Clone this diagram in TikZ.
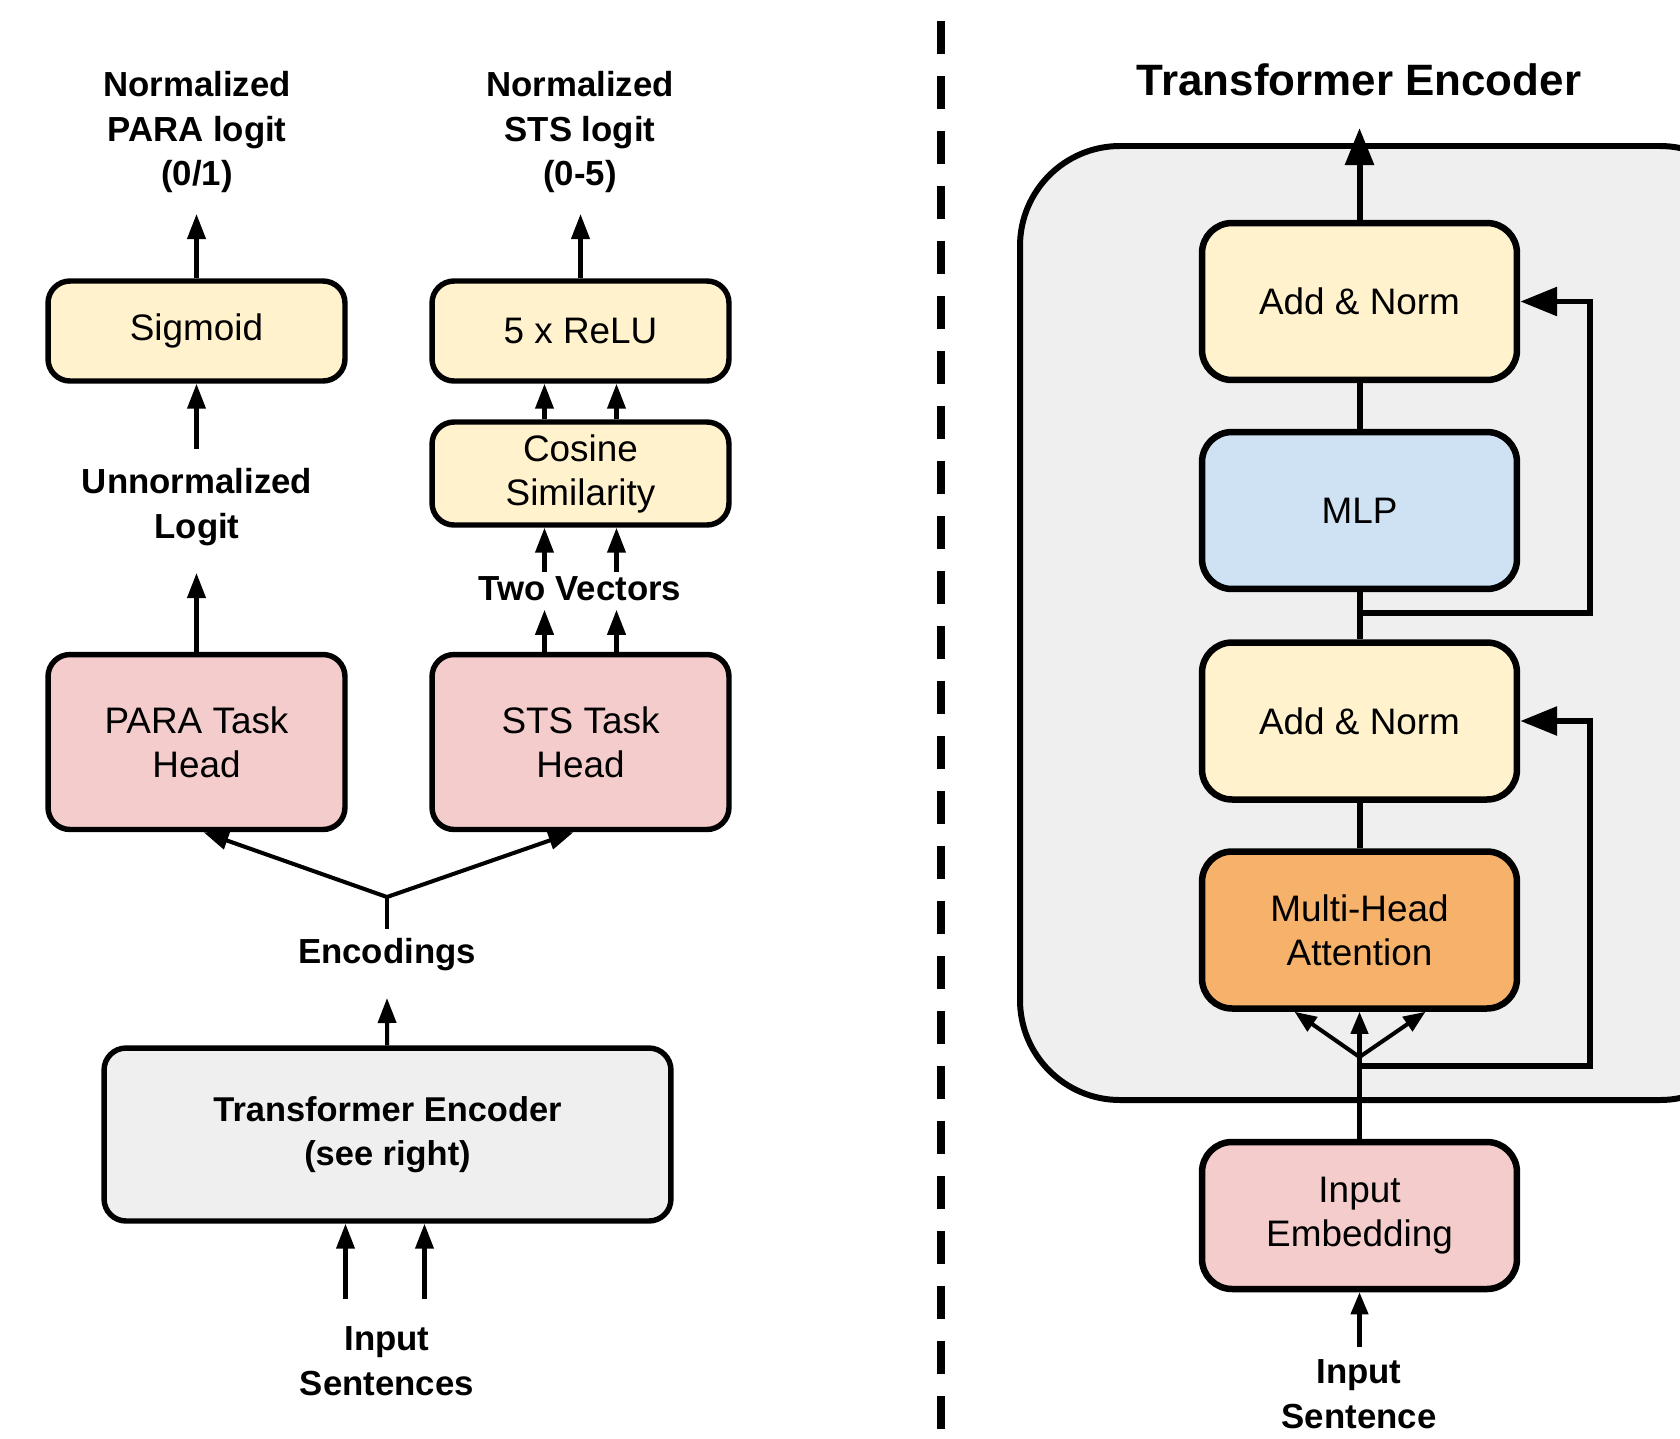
\documentclass[tikz,border=0pt]{standalone}
\usepackage{fontspec}
\setmainfont{Liberation Sans}
\usetikzlibrary{arrows.meta,calc}

\definecolor{ylw}{HTML}{FFF2CC}
\definecolor{pnk}{HTML}{F4CCCC}
\definecolor{gry}{HTML}{EFEFEF}
\definecolor{blu}{HTML}{CFE2F3}
\definecolor{org}{HTML}{F6B26B}

\begin{document}
\begin{tikzpicture}[x = 0.02cm, y = -0.02cm, font = \fontsize{21}{25}\selectfont,
        box/.style = {draw, line width = 3.1pt, rounded corners = 0.44cm, align = center,
            minimum width = 5.94cm, inner sep = 0pt},
        block/.style = {draw, line width = 3.7pt, rounded corners = 0.6cm, align = center,
            minimum width = 6.3cm, minimum height = 3.14cm, inner sep = 0pt},
        lbl/.style = {font = \fontsize{19.8}{25.6}\selectfont\bfseries, align = center},
        arr/.style = {line width = 2.3pt, -{Triangle[length = 0.5cm, width = 0.36cm]}},
        bigarr/.style = {line width = 3.4pt, -{Triangle[length = 0.74cm, width = 0.56cm]}},
        smallarr/.style = {line width = 2.3pt, -{Triangle[length = 0.44cm, width = 0.34cm]}}]
        \clip (0,0) rectangle (1680,1438);

        \node[box, fill = ylw, minimum height = 2cm] (sig) at (196.5,331) {Sigmoid};
        \node[box, fill = ylw, minimum height = 2cm] (relu) at (580.5,331) {5 x ReLU};
        \node[box, fill = ylw, minimum height = 2.06cm] (cos) at (580.5,473.5) {Cosine\\Similarity};
        \node[box, fill = pnk, minimum height = 3.5cm] (para) at (196.5,742) {PARA Task\\Head};
        \node[box, fill = pnk, minimum height = 3.5cm] (sts) at (580.5,742) {STS Task\\Head};
        \node[box, fill = gry, minimum width = 11.34cm, minimum height = 3.46cm,
            font = \fontsize{19.6}{25}\selectfont\bfseries] (enc) at (387.5,1134.5)
            {Transformer Encoder\\(see right)};

        \node[lbl] (outpara) at (197,132) {Normalized\\PARA logit\\(0/1)};
        \node[lbl] (outsts) at (580,132) {Normalized\\STS logit\\(0-5)};
        \node[lbl] (unnorm) at (197,507) {Unnormalized\\Logit};
        \node[lbl] (twovec) at (580,589) {Two Vectors};
        \node[lbl] (enclbl) at (387,955) {Encodings};
        \node[lbl] (inputs) at (387,1361) {Input\\Sentences};

        \coordinate (sigout) at (196.5,214);
        \coordinate (reluout) at (580.5,214);
        \coordinate (unnormbot) at (196.5,449);
        \coordinate (paraout) at (196.5,573);
        \coordinate (br) at (387,897);

        \draw[arr] (sig) -- (sigout);
        \draw[arr] (relu) -- (reluout);
        \draw[arr] (unnormbot) -- (sig);
        \draw[arr] (para) -- (paraout);
        \foreach \dx in {-36,36} {
            \draw[arr] ($(cos.north)+(\dx,0)$) -- ($(relu.south)+(\dx,0)$);
            \draw[arr] ($(cos.south)+(\dx,44)$) -- ($(cos.south)+(\dx,0)$);
            \draw[arr] ($(sts.north)+(\dx,0)$) -- ($(sts.north)+(\dx,-42)$);
        }
        \draw[line width = 2.3pt] ($(enclbl)+(0,-26)$) -- (br);
        \draw[arr] (br) -- ($(para.south)+(7,0)$);
        \draw[arr] (br) -- ($(sts.south)+(-7,0)$);
        \draw[arr] (enc) -- ($(enclbl)+(0,43)$);
        \foreach \dx in {-42,37}
            \draw[arr] ($(enc.south)+(\dx,75)$) -- ($(enc.south)+(\dx,0)$);

        \draw[line width = 4.5pt, dash pattern = on 0.66cm off 0.44cm] (941,21) -- (941,1438);

        \node[font = \fontsize{25}{30}\selectfont\bfseries] (title) at (1359,80) {Transformer Encoder};
        \draw[fill = gry, line width = 3.4pt, rounded corners = 2cm] (1020,146) rectangle (1760,1100);

        \node[block, fill = ylw] (an2) at (1359.5,301.5) {Add \& Norm};
        \node[block, fill = blu] (mlp) at (1359.5,510.5) {MLP};
        \node[block, fill = ylw] (an1) at (1359.5,721) {Add \& Norm};
        \node[block, fill = org] (mha) at (1359.5,930) {Multi-Head\\Attention};
        \node[block, fill = pnk, minimum height = 2.94cm] (emb) at (1359.5,1215.5) {Input\\Embedding};
        \node[lbl] (insent) at (1359,1394) {Input\\Sentence};

        \coordinate (encout) at (1359.5,128);
        \coordinate (r1) at (1359.5,613);
        \coordinate (r2) at (1359.5,1066);
        \coordinate (fan) at (1359.5,1057);

        \draw[bigarr] (an2) -- (encout);
        \draw[line width = 3.4pt] (an2) -- (mlp);
        \draw[line width = 3.4pt] (mlp) -- (an1);
        \draw[line width = 3.4pt] (an1) -- (mha);
        \draw[bigarr] (r1) -- ++(230.5,0) |- (an2.east);
        \draw[bigarr] (r2) -- ++(230.5,0) |- (an1.east);
        \draw[line width = 2.3pt] (emb) -- (fan);
        \draw[smallarr] (fan) -- (mha);
        \draw[smallarr] (fan) -- ($(mha.south)+(-65,0)$);
        \draw[smallarr] (fan) -- ($(mha.south)+(66,0)$);
        \draw[smallarr] ($(emb.south)+(0,55)$) -- (emb);
    \end{tikzpicture}
\end{document}
